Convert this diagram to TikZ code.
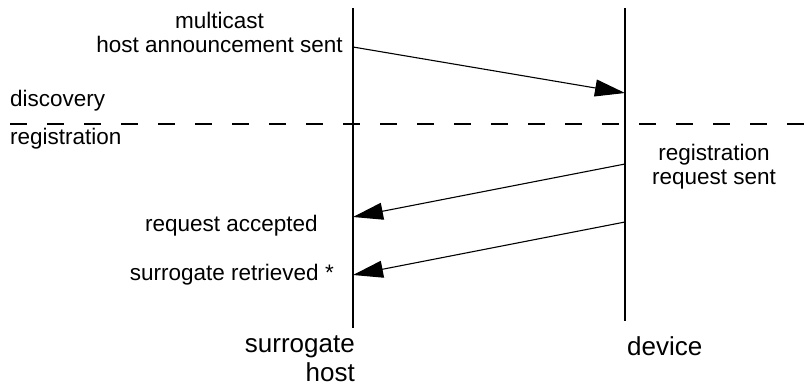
\documentclass[tikz,border=0pt]{standalone}
\usepackage{fontspec}
\setmainfont{Liberation Sans}
\usetikzlibrary{arrows.meta}
\begin{document}
\begin{tikzpicture}[x=1pt,y=-1pt,
  lifeline/.style={line width=1.3pt},
  msg/.style={line width=1.1pt,-{Triangle[length=30pt,width=17pt]}},
  lbl/.style={font=\fontsize{22.5}{24}\selectfont, inner sep=0pt, align=center},
  big/.style={font=\fontsize{26}{29}\selectfont, inner sep=0pt, align=right},
  phase/.style={line width=1.1pt, dash pattern=on 17pt off 20pt}]
\useasboundingbox (0,0) rectangle (808,385);
% lifelines
\coordinate (hTop) at (353,8);
\coordinate (hBot) at (353,328);
\coordinate (dTop) at (625,8);
\coordinate (dBot) at (625,321);
\draw[lifeline] (hTop) -- (hBot);
\draw[lifeline] (dTop) -- (dBot);
% phase separator
\coordinate (dl) at (10,124);
\coordinate (dr) at (808,124);
\draw[phase] (dl) -- (dr);
% messages
\coordinate (a1s) at (353,47);
\coordinate (a1e) at (625,93);
\coordinate (a2s) at (625,164);
\coordinate (a2e) at (353,217);
\coordinate (a3s) at (625,222);
\coordinate (a3e) at (353,275);
\draw[msg] (a1s) -- (a1e);
\draw[msg] (a2s) -- (a2e);
\draw[msg] (a3s) -- (a3e);
% labels
\node[lbl, anchor=north east] (mc) at (343,12) {multicast\\host announcement sent};
\node[lbl, anchor=base west] (disc) at (10,107) {discovery};
\node[lbl, anchor=base west] (reg) at (10,145) {registration};
\node[lbl, anchor=north] (rrs) at (714,144) {registration\\request sent};
\node[lbl, anchor=base east] (ra) at (318,231) {request accepted};
\node[lbl, anchor=base east] (sr) at (334,280) {surrogate retrieved *};
\node[big, anchor=south east] (sh) at (355,382) {surrogate\\host};
\node[big, anchor=base west] (dev) at (627,355) {device};
\end{tikzpicture}
\end{document}
